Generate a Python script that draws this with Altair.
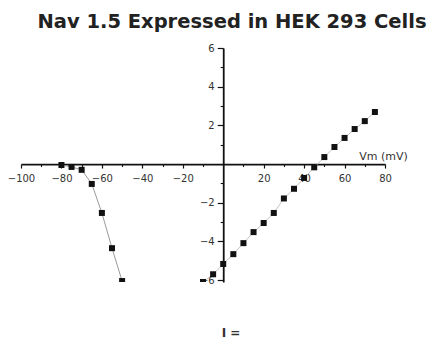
import altair as alt
import pandas as pd

# Sodium current-voltage relation (nA vs mV)
iv_mv = [-80, -75, -70, -65, -60, -55, -50]
iv_na = [-0.05, -0.15, -0.3, -1.03, -2.53, -4.35, -6.05]

# Linear (leak-like) series
lin_mv = [-10, -5, 0, 5, 10, 15, 20, 25, 30, 35, 40, 45, 50, 55, 60, 65, 70, 75]
lin_na = [-6.1, -5.7, -5.17, -4.66, -4.09, -3.52, -3.05, -2.53, -1.78, -1.28,
          -0.72, -0.17, 0.36, 0.88, 1.35, 1.81, 2.22, 2.69]

x_major = [-100, -80, -60, -40, -20, 20, 40, 60, 80]
x_minor = [-90, -70, -50, -30, -10, 10, 30, 50, 70]
y_major = [6, 4, 2, -2, -4, -6]
y_minor = [5, 3, 1, -1, -3, -5]

X_DOM = [-100, 80]
Y_DOM = [-6.1, 6]
W, H = 364, 234

# offsets that move the axes onto the origin lines
x_axis_off = -H * (0 - Y_DOM[0]) / (Y_DOM[1] - Y_DOM[0])
y_axis_off = -W * (0 - X_DOM[0]) / (X_DOM[1] - X_DOM[0])

xs = alt.Scale(domain=X_DOM, nice=False, zero=False)
ys = alt.Scale(domain=Y_DOM, nice=False, zero=False)

iv = pd.DataFrame({"vm": iv_mv, "i": iv_na})
lin = pd.DataFrame({"vm": lin_mv, "i": lin_na})

FONT = "DejaVu Sans"

x_major_axis = alt.Axis(
    orient="bottom", values=x_major, offset=x_axis_off, grid=False,
    domainColor="#111", domainWidth=1.8, tickColor="#111", tickWidth=1.2,
    tickSize=4, labelFont=FONT, labelFontSize=10, labelColor="#333",
    labelPadding=5, labelOverlap=False, labelFlush=False, labelBound=False,
    title="Vm (mV)", titleFont=FONT, titleFontSize=11, titleFontWeight="normal",
    titleColor="#333", titleX=383 - 21, titleY=-5, titleAlign="center",
    titleBaseline="alphabetic", titleAngle=0,
)
y_major_axis = alt.Axis(
    orient="left", values=y_major, offset=y_axis_off, grid=False,
    domainColor="#111", domainWidth=1.8, tickColor="#111", tickWidth=1.2,
    tickSize=6, labelFont=FONT, labelFontSize=10, labelColor="#333",
    labelPadding=3, labelOverlap=False, labelFlush=False, labelBound=False,
    title=None,
)
x_minor_axis = alt.Axis(
    orient="bottom", values=x_minor, offset=x_axis_off, grid=False,
    domain=False, labels=False, tickColor="#111", tickWidth=1.1, tickSize=2.5,
    title=None,
)
y_minor_axis = alt.Axis(
    orient="left", values=y_minor, offset=y_axis_off, grid=False,
    domain=False, labels=False, tickColor="#111", tickWidth=1.1, tickSize=3,
    title=None,
)

iv_line = alt.Chart(iv).mark_line(color="#9a9a9a", strokeWidth=1, clip=True).encode(
    x=alt.X("vm:Q", scale=xs, axis=x_major_axis),
    y=alt.Y("i:Q", scale=ys, axis=y_major_axis),
)
lin_line = alt.Chart(lin).mark_line(color="#c4c4c4", strokeWidth=1, clip=True).encode(
    x=alt.X("vm:Q", scale=xs, axis=x_minor_axis),
    y=alt.Y("i:Q", scale=ys, axis=y_minor_axis),
)
iv_pts = alt.Chart(iv).mark_square(color="#111", size=36, opacity=1, clip=True).encode(
    x=alt.X("vm:Q", scale=xs, axis=None),
    y=alt.Y("i:Q", scale=ys, axis=None),
)
lin_pts = alt.Chart(lin).mark_square(color="#111", size=36, opacity=1, clip=True).encode(
    x=alt.X("vm:Q", scale=xs, axis=None),
    y=alt.Y("i:Q", scale=ys, axis=None),
)

note = alt.Chart(pd.DataFrame({"t": ["I ="]})).mark_text(
    font=FONT, fontSize=12, fontWeight="bold", color="#333",
    align="center", baseline="alphabetic",
).encode(text="t:N", x=alt.value(210), y=alt.value(289))

chart = alt.layer(iv_line, lin_line, iv_pts, lin_pts, note).resolve_axis(
    x="independent", y="independent"
).properties(
    width=W,
    height=H,
    background="white",
    title=alt.TitleParams(
        "Nav 1.5 Expressed in HEK 293 Cells", font=FONT, fontSize=19.5,
        fontWeight="bold", color="#222", anchor="middle", frame="group",
        dx=29, offset=11,
    ),
    autosize=alt.AutoSizeParams(type="none"),
    padding={"left": 21, "top": 48, "right": 45, "bottom": 59},
).configure_view(stroke=None, strokeWidth=0)

chart.save("out.html", embed_options={"renderer": "svg", "actions": False})
